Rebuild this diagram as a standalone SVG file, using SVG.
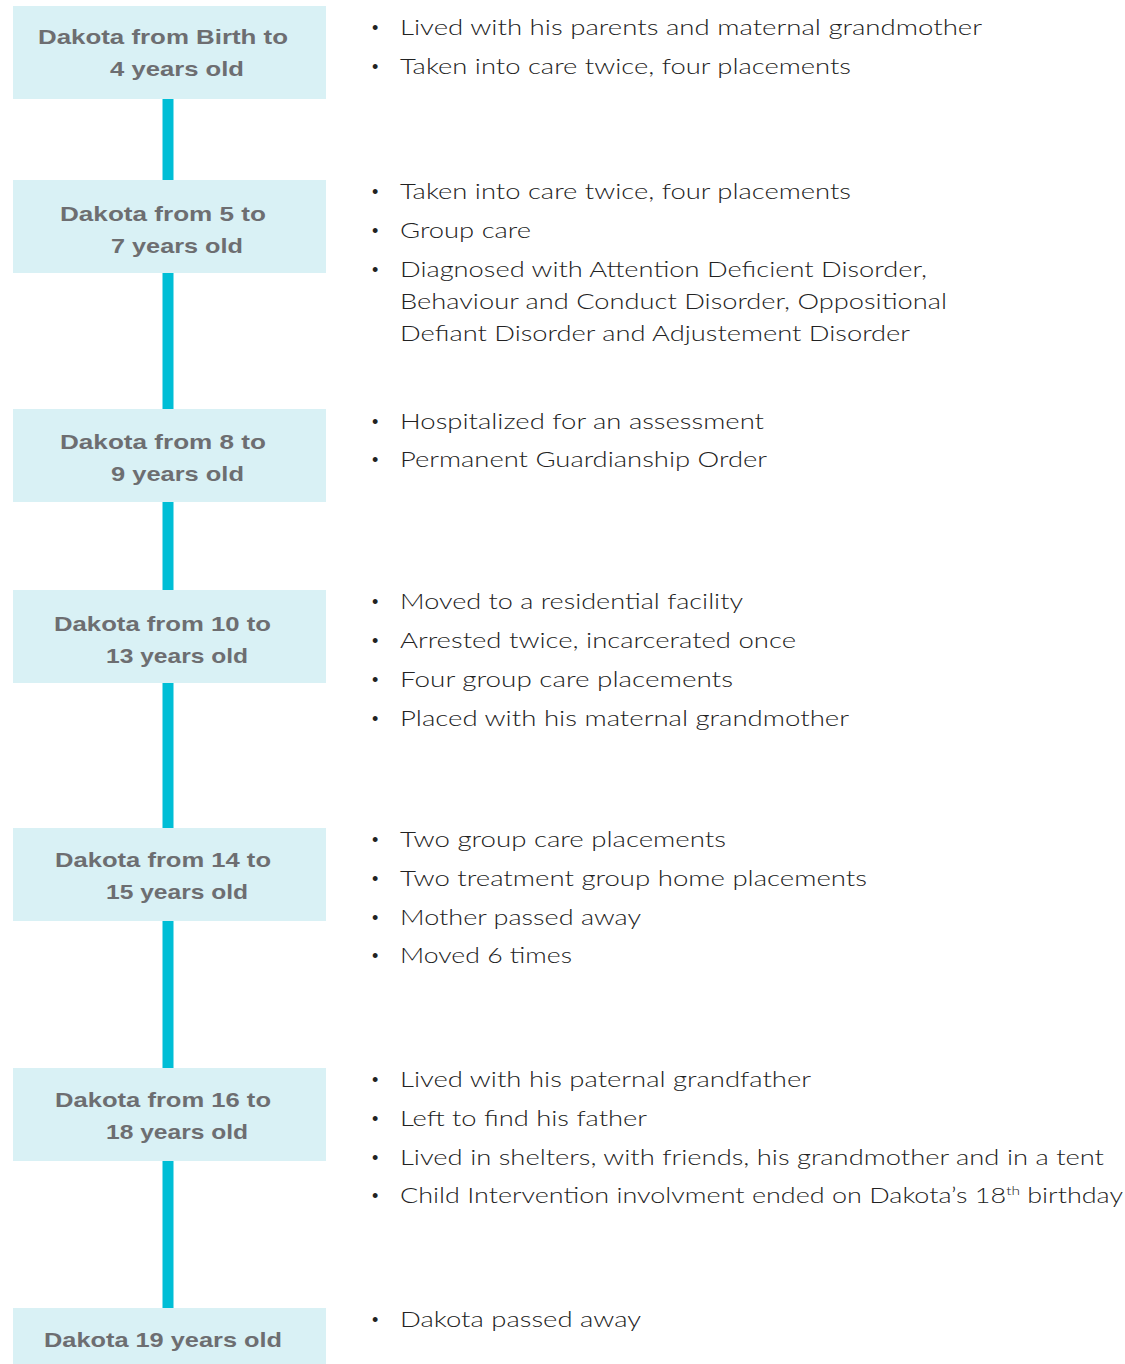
<svg xmlns="http://www.w3.org/2000/svg" width="1125" height="1364" viewBox="0 0 1125 1364">
<style>
.box{fill:#d9f1f5}
.hd{font-family:"Liberation Sans",Arial,sans-serif;font-weight:bold;font-size:21px;fill:#6d6e71}
.bd{font-family:Lato,"Liberation Sans",sans-serif;font-weight:300;font-size:21px;fill:#222222}
.bl{font-family:"Liberation Sans",Arial,sans-serif;font-size:18px;fill:#222222}
.ln{stroke:#00bed6;stroke-width:11}
</style>
<rect width="1125" height="1364" fill="#ffffff"/>
<g id="connectors">
<line class="ln" x1="168" y1="98" x2="168" y2="181"/>
<line class="ln" x1="168" y1="272" x2="168" y2="410"/>
<line class="ln" x1="168" y1="501" x2="168" y2="591"/>
<line class="ln" x1="168" y1="682" x2="168" y2="829"/>
<line class="ln" x1="168" y1="920" x2="168" y2="1069"/>
<line class="ln" x1="168" y1="1160" x2="168" y2="1309"/>
</g>
<g id="node1">
<rect class="box" x="13" y="6" width="313" height="93"/>
<text class="hd" x="38" y="44" textLength="250" lengthAdjust="spacingAndGlyphs">Dakota from Birth to</text>
<text class="hd" x="110" y="76" textLength="134" lengthAdjust="spacingAndGlyphs">4 years old</text>
</g>
<g id="node2">
<rect class="box" x="13" y="180" width="313" height="93"/>
<text class="hd" x="60" y="221" textLength="206" lengthAdjust="spacingAndGlyphs">Dakota from 5 to</text>
<text class="hd" x="111" y="253" textLength="132" lengthAdjust="spacingAndGlyphs">7 years old</text>
</g>
<g id="node3">
<rect class="box" x="13" y="409" width="313" height="93"/>
<text class="hd" x="60" y="449" textLength="206" lengthAdjust="spacingAndGlyphs">Dakota from 8 to</text>
<text class="hd" x="111" y="481" textLength="133" lengthAdjust="spacingAndGlyphs">9 years old</text>
</g>
<g id="node4">
<rect class="box" x="13" y="590" width="313" height="93"/>
<text class="hd" x="54" y="631" textLength="217" lengthAdjust="spacingAndGlyphs">Dakota from 10 to</text>
<text class="hd" x="106" y="663" textLength="142" lengthAdjust="spacingAndGlyphs">13 years old</text>
</g>
<g id="node5">
<rect class="box" x="13" y="828" width="313" height="93"/>
<text class="hd" x="55" y="867" textLength="216" lengthAdjust="spacingAndGlyphs">Dakota from 14 to</text>
<text class="hd" x="106" y="899" textLength="142" lengthAdjust="spacingAndGlyphs">15 years old</text>
</g>
<g id="node6">
<rect class="box" x="13" y="1068" width="313" height="93"/>
<text class="hd" x="55" y="1107" textLength="216" lengthAdjust="spacingAndGlyphs">Dakota from 16 to</text>
<text class="hd" x="106" y="1139" textLength="142" lengthAdjust="spacingAndGlyphs">18 years old</text>
</g>
<g id="node7">
<rect class="box" x="13" y="1308" width="313" height="60"/>
<text class="hd" x="44" y="1347" textLength="238" lengthAdjust="spacingAndGlyphs">Dakota 19 years old</text>
</g>
<g id="notes1">
<text class="bl" x="372" y="34">•</text>
<text class="bd" x="400" y="35" textLength="582" lengthAdjust="spacingAndGlyphs">Lived with his parents and maternal grandmother</text>
<text class="bl" x="372" y="73">•</text>
<text class="bd" x="400" y="74" textLength="451" lengthAdjust="spacingAndGlyphs">Taken into care twice, four placements</text>
</g>
<g id="notes2">
<text class="bl" x="372" y="198">•</text>
<text class="bd" x="400" y="199" textLength="451" lengthAdjust="spacingAndGlyphs">Taken into care twice, four placements</text>
<text class="bl" x="372" y="237">•</text>
<text class="bd" x="400" y="238" textLength="131" lengthAdjust="spacingAndGlyphs">Group care</text>
<text class="bl" x="372" y="276">•</text>
<text class="bd" x="400" y="277" textLength="527" lengthAdjust="spacingAndGlyphs">Diagnosed with Attention Deficient Disorder,</text>
<text class="bd" x="400" y="309" textLength="547" lengthAdjust="spacingAndGlyphs">Behaviour and Conduct Disorder, Oppositional</text>
<text class="bd" x="400" y="341" textLength="510" lengthAdjust="spacingAndGlyphs">Defiant Disorder and Adjustement Disorder</text>
</g>
<g id="notes3">
<text class="bl" x="372" y="428">•</text>
<text class="bd" x="400" y="429" textLength="364" lengthAdjust="spacingAndGlyphs">Hospitalized for an assessment</text>
<text class="bl" x="372" y="466">•</text>
<text class="bd" x="400" y="467" textLength="367" lengthAdjust="spacingAndGlyphs">Permanent Guardianship Order</text>
</g>
<g id="notes4">
<text class="bl" x="372" y="608">•</text>
<text class="bd" x="400" y="609" textLength="343" lengthAdjust="spacingAndGlyphs">Moved to a residential facility</text>
<text class="bl" x="372" y="647">•</text>
<text class="bd" x="400" y="648" textLength="396" lengthAdjust="spacingAndGlyphs">Arrested twice, incarcerated once</text>
<text class="bl" x="372" y="686">•</text>
<text class="bd" x="400" y="687" textLength="333" lengthAdjust="spacingAndGlyphs">Four group care placements</text>
<text class="bl" x="372" y="725">•</text>
<text class="bd" x="400" y="726" textLength="449" lengthAdjust="spacingAndGlyphs">Placed with his maternal grandmother</text>
</g>
<g id="notes5">
<text class="bl" x="372" y="846">•</text>
<text class="bd" x="400" y="847" textLength="326" lengthAdjust="spacingAndGlyphs">Two group care placements</text>
<text class="bl" x="372" y="885">•</text>
<text class="bd" x="400" y="886" textLength="467" lengthAdjust="spacingAndGlyphs">Two treatment group home placements</text>
<text class="bl" x="372" y="924">•</text>
<text class="bd" x="400" y="925" textLength="241" lengthAdjust="spacingAndGlyphs">Mother passed away</text>
<text class="bl" x="372" y="962">•</text>
<text class="bd" x="400" y="963" textLength="172" lengthAdjust="spacingAndGlyphs">Moved 6 times</text>
</g>
<g id="notes6">
<text class="bl" x="372" y="1086">•</text>
<text class="bd" x="400" y="1087" textLength="411" lengthAdjust="spacingAndGlyphs">Lived with his paternal grandfather</text>
<text class="bl" x="372" y="1125">•</text>
<text class="bd" x="400" y="1126" textLength="247" lengthAdjust="spacingAndGlyphs">Left to find his father</text>
<text class="bl" x="372" y="1164">•</text>
<text class="bd" x="400" y="1165" textLength="704" lengthAdjust="spacingAndGlyphs">Lived in shelters, with friends, his grandmother and in a tent</text>
<text class="bl" x="372" y="1202">•</text>
<text class="bd" x="400" y="1203" textLength="723" lengthAdjust="spacingAndGlyphs">Child Intervention involvment ended on Dakota’s 18<tspan font-size="12" dy="-8">th</tspan><tspan dy="8"> birthday</tspan></text>
</g>
<g id="notes7">
<text class="bl" x="372" y="1326">•</text>
<text class="bd" x="400" y="1327" textLength="241" lengthAdjust="spacingAndGlyphs">Dakota passed away</text>
</g>
</svg>
